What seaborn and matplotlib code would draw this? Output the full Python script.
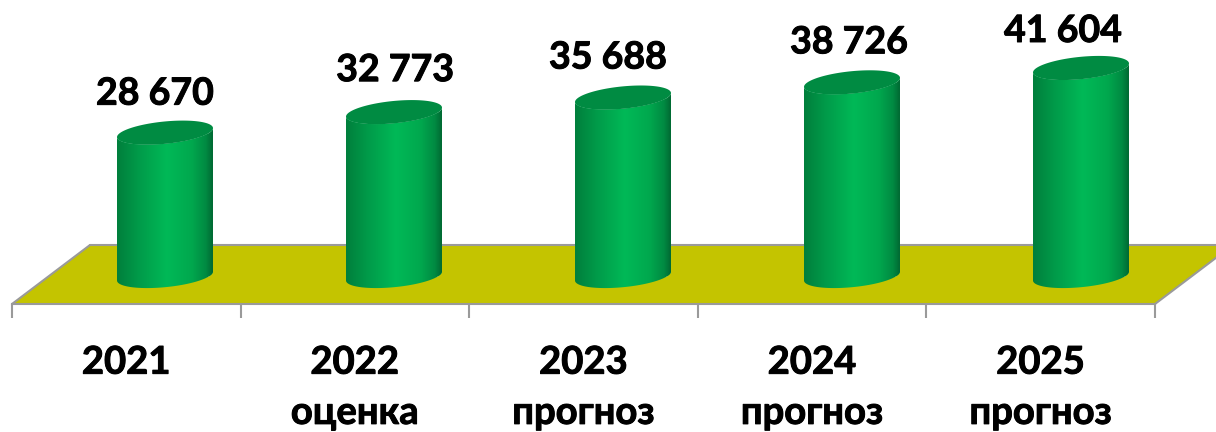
import numpy as np
import pandas as pd
import matplotlib
matplotlib.use("Agg")
import matplotlib.pyplot as plt
import matplotlib.patheffects as pe
import seaborn as sns
from matplotlib.colors import LinearSegmentedColormap
from matplotlib.patches import Polygon

# Data
years = ["2021", "2022", "2023", "2024", "2025"]
notes = ["", "оценка", "прогноз", "прогноз", "прогноз"]
values = [28670, 32773, 35688, 38726, 41604]
value_labels = ["28 670", "32 773", "35 688", "38 726", "41 604"]

# Value label nudges in pixels, the labels were placed by hand in the original
label_dx = [-10, 1, -15, -3, -18]
label_dy = [39, 42, 40, 40, 37]

sns.set_theme(style="white")
plt.rcParams["font.family"] = ["Lato", "DejaVu Sans"]

W, H = 1216, 432
X0, X_STEP = 165, 229     # bar centres in pixels
Y0, Y_SCALE = 276, 0.005  # baseline pixel, pixels per unit
GREY = "#9a9a9a"
HEAVY = [pe.withStroke(linewidth=0.7, foreground="black")]  # Lato bold is lighter than the original


def xd(px):
    return (px - X0) / X_STEP


def yd(py):
    return (Y0 - py) / Y_SCALE


fig = plt.figure(figsize=(W / 100, H / 100), dpi=100)
ax = fig.add_axes([0, 0, 1, 1])
ax.patch.set_visible(False)

df = pd.DataFrame({"year": years, "value": values})
sns.barplot(data=df, x="year", y="value", color="#00a84e", width=96 / X_STEP,
            saturation=1, ax=ax, zorder=3)

# Floor
floor_xy = [(12, 304), (90, 245), (1233, 245), (1155, 304)]
ax.add_patch(Polygon([(xd(a), yd(b)) for a, b in floor_xy], closed=True,
                     facecolor="#c4c400", edgecolor="none", zorder=1))
for (a, b), (c, d) in zip(floor_xy[:-1], floor_xy[1:]):
    ax.plot([xd(a), xd(c)], [yd(b), yd(d)], color=GREY, lw=1.5, zorder=1.5,
            solid_capstyle="round")

# Cylinders
body_cmap = LinearSegmentedColormap.from_list("body", [
    (0.0, "#007f3c"), (0.22, "#009a49"), (0.52, "#00b957"),
    (0.78, "#00a84e"), (0.93, "#008a42"), (1.0, "#006a33")])
t = np.linspace(0, 2 * np.pi, 121)
half_w = 48
arc_b, tilt = 11.2, 4.5

for i, bar in enumerate(ax.patches[:len(values)]):
    val = bar.get_height()
    cx = bar.get_x() + bar.get_width() / 2
    # lower half of the ellipse at both ends, y in pixels measured up
    low = t[:61] + np.pi
    ex = cx + half_w * np.cos(low) / X_STEP
    eb = (tilt * np.cos(low) + arc_b * np.sin(low)) / Y_SCALE
    # top front arc runs back from right to left
    body = Polygon(np.vstack([
        np.column_stack([ex, eb]),
        np.column_stack([ex[::-1], val + eb[::-1]]),
    ]), closed=True, transform=ax.transData)
    bar.set_clip_path(body)

    img = ax.imshow(np.linspace(0, 1, 200)[None, :], cmap=body_cmap, aspect="auto",
                    extent=[bar.get_x(), bar.get_x() + bar.get_width(), yd(300), val + 20 / Y_SCALE],
                    zorder=3.1, interpolation="bilinear")
    img.set_clip_path(body)

    top_x = cx + half_w * np.cos(t) / X_STEP
    top_y = val + (tilt * np.cos(t) + arc_b * np.sin(t)) / Y_SCALE
    ax.fill(top_x, top_y, color="#008b42", lw=0, zorder=3.2)

    ax.text(cx + label_dx[i] / X_STEP, val + label_dy[i] / Y_SCALE, value_labels[i],
            ha="center", va="center", fontsize=27, fontweight="bold",
            color="black", zorder=4, path_effects=HEAVY)

# Axis along the front edge of the floor
ax.set_xlim(xd(0), xd(W))
ax.set_ylim(yd(H), yd(0))
ax.yaxis.set_visible(False)
for side in ["left", "right", "top"]:
    ax.spines[side].set_visible(False)
ax.spines["bottom"].set_position(("data", yd(304)))
ax.spines["bottom"].set_color(GREY)
ax.spines["bottom"].set_linewidth(1.5)
ax.spines["bottom"].set_zorder(1.6)

edges = [xd(12 + 228.6 * i) for i in range(len(years) + 1)]
ax.spines["bottom"].set_bounds(edges[0], edges[-1])
ax.set_xticks(edges)
ax.set_xticklabels([])
ax.tick_params(axis="x", which="major", length=10, width=1.5, color=GREY, bottom=True)

centers = [(a + b) / 2 for a, b in zip(edges[:-1], edges[1:])]
ax.set_xticks(centers, minor=True)
tick_texts = ax.set_xticklabels([f"{y}\n{n}" if n else y for y, n in zip(years, notes)], minor=True,
                                fontsize=27.5, fontweight="bold", color="black", linespacing=1.58)
for tick_text in tick_texts:
    tick_text.set_path_effects(HEAVY)
ax.tick_params(axis="x", which="minor", length=0, pad=30, bottom=True)
ax.set_xlabel("")
ax.set_ylabel("")

plt.savefig("out.png", dpi=100, facecolor="white")
plt.close()
